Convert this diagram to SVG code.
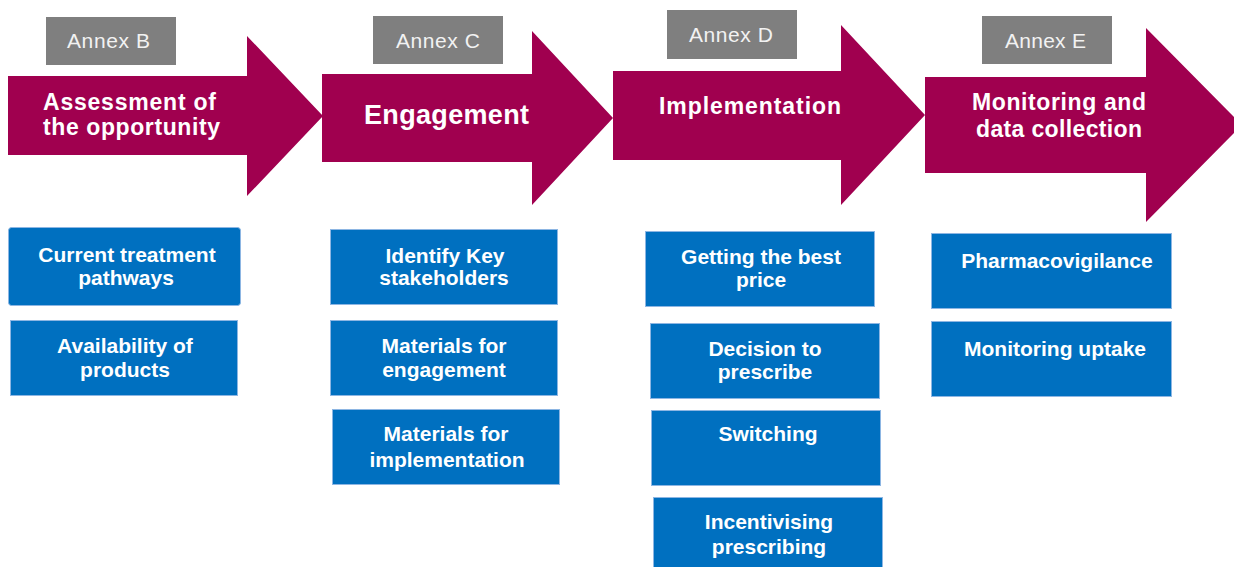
<svg xmlns="http://www.w3.org/2000/svg" width="1234" height="567" viewBox="0 0 1234 567">
  <style>
    .arrow { fill: #A0004F; }
    .annex { fill: #7F7F7F; }
    .annex-t { font-family: "Liberation Sans", Arial, sans-serif; font-size: 21px; fill: #F2F2F2; }
    .title { font-family: "Liberation Sans", Arial, sans-serif; font-size: 23px; font-weight: bold; fill: #FFFFFF; }
    .box { fill: #0070C0; stroke: #8DB6E3; stroke-width: 1; }
    .box-t { font-family: "Liberation Sans", Arial, sans-serif; font-size: 21px; font-weight: bold; fill: #FFFFFF; text-anchor: middle; }
  </style>
  <rect width="1234" height="567" fill="#FFFFFF"/>

  <!-- Stage arrows -->
  <g id="stage-assessment">
    <polygon class="arrow" points="8,76 247,76 247,36 323,116 247,196 247,155 8,155"/>
    <text class="title" x="43" y="110" textLength="173" lengthAdjust="spacing">Assessment of</text>
    <text class="title" x="43" y="135" textLength="177" lengthAdjust="spacing">the opportunity</text>
  </g>
  <g id="stage-engagement">
    <polygon class="arrow" points="322,74 532,74 532,31 613,118 532,205 532,162 322,162"/>
    <text class="title" x="364" y="124" style="font-size:27px" textLength="165" lengthAdjust="spacing">Engagement</text>
  </g>
  <g id="stage-implementation">
    <polygon class="arrow" points="613,71 841,71 841,25 925,115 841,205 841,160 613,160"/>
    <text class="title" x="659" y="114" textLength="182" lengthAdjust="spacing">Implementation</text>
  </g>
  <g id="stage-monitoring">
    <polygon class="arrow" points="925,77 1146,77 1146,28 1242,125 1146,222 1146,173 925,173"/>
    <text class="title" x="972" y="110" textLength="174" lengthAdjust="spacing">Monitoring and</text>
    <text class="title" x="976" y="137" textLength="166" lengthAdjust="spacing">data collection</text>
  </g>

  <!-- Annex labels -->
  <g id="annex-b">
    <rect class="annex" x="46" y="17" width="130" height="48"/>
    <text class="annex-t" x="67" y="48" textLength="83" lengthAdjust="spacing">Annex B</text>
  </g>
  <g id="annex-c">
    <rect class="annex" x="373" y="16" width="130" height="48"/>
    <text class="annex-t" x="396" y="48" textLength="84" lengthAdjust="spacing">Annex C</text>
  </g>
  <g id="annex-d">
    <rect class="annex" x="667" y="10" width="130" height="49"/>
    <text class="annex-t" x="689" y="42" textLength="84" lengthAdjust="spacing">Annex D</text>
  </g>
  <g id="annex-e">
    <rect class="annex" x="982" y="16" width="130" height="48"/>
    <text class="annex-t" x="1005" y="48" textLength="81" lengthAdjust="spacing">Annex E</text>
  </g>

  <!-- Assessment boxes -->
  <g id="box-current-treatment">
    <rect class="box" x="8.5" y="227.5" width="232" height="78" rx="3"/>
    <text class="box-t" x="127" y="262">Current treatment</text>
    <text class="box-t" x="126" y="285">pathways</text>
  </g>
  <g id="box-availability">
    <rect class="box" x="10.5" y="320.5" width="227" height="75"/>
    <text class="box-t" x="125" y="353">Availability of</text>
    <text class="box-t" x="125" y="377">products</text>
  </g>

  <!-- Engagement boxes -->
  <g id="box-identify">
    <rect class="box" x="330.5" y="229.5" width="227" height="75"/>
    <text class="box-t" x="445" y="263">Identify Key</text>
    <text class="box-t" x="444" y="285">stakeholders</text>
  </g>
  <g id="box-materials-engagement">
    <rect class="box" x="330.5" y="320.5" width="227" height="75"/>
    <text class="box-t" x="444" y="353">Materials for</text>
    <text class="box-t" x="444" y="377">engagement</text>
  </g>
  <g id="box-materials-implementation">
    <rect class="box" x="332.5" y="409.5" width="227" height="75"/>
    <text class="box-t" x="446" y="441">Materials for</text>
    <text class="box-t" x="447" y="467">implementation</text>
  </g>

  <!-- Implementation boxes -->
  <g id="box-best-price">
    <rect class="box" x="645.5" y="231.5" width="229" height="75"/>
    <text class="box-t" x="761" y="264">Getting the best</text>
    <text class="box-t" x="761" y="287">price</text>
  </g>
  <g id="box-decision">
    <rect class="box" x="650.5" y="323.5" width="229" height="75"/>
    <text class="box-t" x="765" y="356">Decision to</text>
    <text class="box-t" x="765" y="379">prescribe</text>
  </g>
  <g id="box-switching">
    <rect class="box" x="651.5" y="410.5" width="229" height="75"/>
    <text class="box-t" x="768" y="441">Switching</text>
  </g>
  <g id="box-incentivising">
    <rect class="box" x="653.5" y="497.5" width="229" height="75"/>
    <text class="box-t" x="769" y="529">Incentivising</text>
    <text class="box-t" x="769" y="554">prescribing</text>
  </g>

  <!-- Monitoring boxes -->
  <g id="box-pharmacovigilance">
    <rect class="box" x="931.5" y="233.5" width="240" height="75"/>
    <text class="box-t" x="1057" y="268">Pharmacovigilance</text>
  </g>
  <g id="box-monitoring-uptake">
    <rect class="box" x="931.5" y="321.5" width="240" height="75"/>
    <text class="box-t" x="1055" y="356">Monitoring uptake</text>
  </g>

  <g id="connectors"/>
</svg>
